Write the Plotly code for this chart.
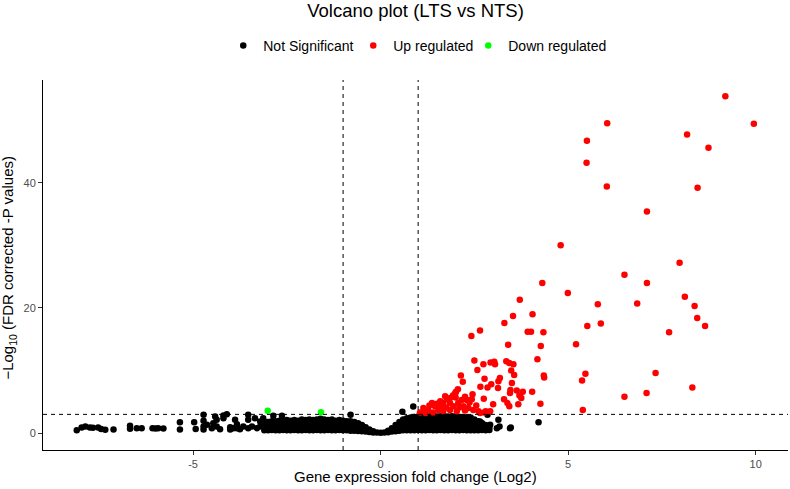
import plotly.graph_objects as go

# ---------------- data ----------------
# Not significant: dense band, given as x-column -> list of y values
ns_band = {
    -3.1: [0.45, 1.0, 1.6], -3.0: [0.45, 1.05, 1.8], -2.9: [0.5, 1.1, 1.9],
    -2.8: [0.45, 1.0, 1.5, 1.9], -2.7: [0.45, 1.05, 1.6, 2.0], -2.6: [0.5, 1.1, 1.6, 2.0],
    -2.5: [0.45, 1.0, 1.6, 2.1], -2.4: [0.45, 1.05, 1.55, 2.0], -2.3: [0.5, 1.1, 1.6, 2.1],
    -2.2: [0.45, 1.0, 1.5, 2.0], -2.1: [0.45, 1.05, 1.65, 2.2], -2.0: [0.5, 1.1, 1.6, 2.1],
    -1.9: [0.45, 1.0, 1.6, 2.2], -1.8: [0.45, 1.05, 1.6, 2.1], -1.7: [0.5, 1.1, 1.65, 2.2],
    -1.6: [0.45, 1.0, 1.6, 2.3], -1.5: [0.45, 1.05, 1.6, 2.2], -1.4: [0.5, 1.1, 1.6, 2.1],
    -1.3: [0.45, 1.0, 1.6, 2.2], -1.2: [0.45, 1.05, 1.55, 2.0], -1.1: [0.5, 1.1, 1.6, 2.1],
    -1.0: [0.45, 1.0, 1.5, 2.0], -0.9: [0.45, 1.0, 1.45, 1.9], -0.8: [0.4, 0.95, 1.45, 1.9],
    -0.7: [0.4, 0.9, 1.35, 1.8], -0.6: [0.35, 0.85, 1.25, 1.6], -0.5: [0.3, 0.8, 1.3],
    -0.4: [0.25, 0.6, 0.95], -0.3: [0.2, 0.6], -0.2: [0.1, 0.3], -0.1: [0.1],
    0.0: [0.05], 0.1: [0.1], 0.2: [0.15, 0.4], 0.3: [0.25, 0.8], 0.4: [0.3, 0.8, 1.3],
    0.5: [0.4, 0.9, 1.4, 1.8], 0.6: [0.45, 1.0, 1.6, 2.2], 0.7: [0.45, 1.0, 1.5, 2.0, 2.4],
    0.8: [0.45, 1.05, 1.6, 2.1, 2.5], 0.9: [0.45, 1.0, 1.55, 2.1, 2.6],
    1.0: [0.5, 1.05, 1.6, 2.15, 2.65], 1.1: [0.45, 1.0, 1.55, 2.1, 2.7],
    1.2: [0.45, 1.05, 1.6, 2.2, 2.7], 1.3: [0.5, 1.0, 1.55, 2.1, 2.65],
    1.4: [0.45, 1.05, 1.6, 2.15, 2.7], 1.5: [0.45, 1.0, 1.55, 2.1, 2.65],
    1.6: [0.5, 1.05, 1.6, 2.2, 2.7], 1.7: [0.45, 1.0, 1.55, 2.1, 2.7],
    1.8: [0.45, 1.05, 1.6, 2.15, 2.65], 1.9: [0.5, 1.0, 1.55, 2.1, 2.7],
    2.0: [0.45, 1.05, 1.6, 2.2, 2.65], 2.1: [0.45, 1.0, 1.55, 2.1, 2.6],
    2.2: [0.5, 1.05, 1.6, 2.15, 2.6], 2.3: [0.45, 1.0, 1.55, 2.1, 2.55],
    2.4: [0.45, 1.0, 1.55, 2.1, 2.5], 2.5: [0.45, 1.0, 1.6, 2.2], 2.6: [0.45, 1.0, 1.5, 1.9],
    2.7: [0.5, 1.05, 1.6], 2.8: [0.45, 1.0, 1.3], 2.9: [0.5, 1.0],
}
# Not significant: scattered points
ns_x = [-8.1, -7.97, -7.87, -7.75, -7.67, -7.53, -7.45, -7.34, -7.12, -6.68, -6.68, -6.5, -6.37,
        -6.08, -6.0, -5.93, -5.79, -5.35, -5.35, -4.97, -4.93, -4.72, -4.72, -4.72, -4.72, -4.63,
        -4.5, -4.46, -4.41, -4.37, -4.37, -4.28, -4.19, -4.19, -4.1, -4.01, -4.01, -3.92, -3.88,
        -3.83, -3.83, -3.75, -3.66, -3.53, -3.53, -3.53, -3.43, -3.35, -3.3, -3.21, -3.21, -3.13,
        -3.13, -2.86, -2.63, -0.8, 0.58, 0.87, 2.39, 2.43, 2.21, 2.25, 2.58, 2.61, 2.65, 2.7,
        2.85, 2.92, 3.1, 3.14, 3.17, 3.45, 3.47, 4.21]
ns_y = [0.45, 0.9, 1.05, 0.9, 0.85, 0.9, 0.65, 0.55, 0.6, 1.2, 0.7, 0.8, 0.8,
        0.8, 0.75, 0.8, 0.75, 1.75, 0.6, 1.75, 0.65, 2.93, 1.97, 1.06, 0.59, 1.33,
        0.8, 1.6, 2.66, 2.13, 1.06, 0.64, 2.82, 2.4, 3.03, 0.96, 0.59, 0.8, 2.13,
        1.44, 0.8, 0.64, 1.06, 2.93, 2.13, 0.8, 1.06, 2.4, 0.8, 1.86, 1.06, 2.4,
        1.6, 2.77, 2.77, 2.93, 3.4, 4.27, 1.33, 0.53, 0.53, 0.8, 1.17, 1.06, 1.86, 1.6,
        2.93, 1.33, 0.8, 2.13, 1.06, 0.8, 0.9, 1.76]

# Up regulated
up_x = [9.19, 9.95, 6.04, 8.17, 5.50, 8.74, 5.49, 6.03, 8.45, 7.10, 4.80, 7.97, 6.50, 4.31,
        7.10, 4.99, 8.11, 3.71, 6.84, 5.79, 8.37, 3.53, 4.05, 8.44, 3.30, 5.87, 5.51, 8.65,
        2.65, 3.92, 4.01, 4.34, 7.69, 2.42, 3.40, 4.27, 5.21, 4.18, 5.46, 5.37, 7.33, 8.31,
        7.09, 6.50, 4.35, 4.36, 4.04, 4.26, 5.39,
        2.50, 2.93, 3.03, 2.74, 3.05, 3.35, 3.43, 3.54, 2.58, 3.48, 3.56, 2.77, 3.18, 3.14,
        2.14, 2.19, 2.66, 2.85, 2.95, 3.13, 3.50, 3.46, 3.63, 3.45, 3.79, 2.06, 2.01, 1.96,
        3.70, 3.75, 2.75, 3.29, 3.38, 3.43, 3.00, 3.67, 2.80, 2.65,
        1.99, 1.93, 2.16, 2.30, 2.37, 2.43, 1.72, 1.77, 1.59, 1.67, 1.37, 1.45, 1.14, 1.27,
        1.85, 1.94, 2.07, 2.21, 2.34, 2.47, 1.54, 1.67, 1.85, 2.03, 2.61, 2.76, 2.92,
        1.05, 1.20, 1.40, 1.60, 1.75, 2.10, 2.25, 1.30, 1.50, 2.00, 1.85, 2.25, 2.55, 2.45]
up_y = [53.8, 49.4, 49.5, 47.7, 46.7, 45.6, 43.2, 39.4, 39.2, 35.4, 30.0, 27.2, 25.3, 24.0,
        24.0, 22.4, 21.8, 21.3, 20.7, 20.6, 20.3, 18.7, 19.0, 18.4, 17.6, 17.5, 17.1, 17.1,
        16.4, 16.2, 16.2, 16.1, 16.1, 15.5, 14.1, 13.9, 14.2, 11.8, 9.5, 8.4, 9.6, 7.3,
        6.4, 5.8, 9.2, 8.9, 6.6, 4.7, 3.7,
        11.6, 11.3, 11.4, 11.0, 11.0, 11.5, 11.2, 11.0, 10.1, 10.0, 9.3, 8.7, 8.8, 8.3,
        9.2, 8.2, 7.4, 7.3, 7.8, 7.2, 8.0, 6.9, 6.8, 6.4, 6.6, 7.0, 6.6, 6.1,
        6.0, 5.6, 5.5, 5.4, 4.8, 4.3, 4.6, 4.6, 3.5, 3.2,
        6.4, 6.0, 5.3, 5.3, 4.9, 5.4, 5.9, 5.4, 5.1, 4.8, 4.8, 4.3, 4.0, 3.7,
        4.8, 4.3, 4.8, 4.3, 4.0, 3.7, 3.7, 3.5, 3.7, 3.5, 3.5, 3.3, 3.5,
        3.3, 3.2, 3.3, 4.2, 4.1, 4.1, 3.6, 4.4, 4.7, 5.7, 5.6, 5.8, 4.4, 6.2]

# Down regulated
down_x = [-3.01, -1.59]
down_y = [3.57, 3.35]

x_ticks = [-5, 0, 5, 10]
y_ticks = [0, 20, 40]
fc_cut = [-1, 1]
p_cut = 3

# ---------------- figure ----------------
band_x, band_y = [], []
for cx, ys in ns_band.items():
    for yy in ys:
        band_x.append(cx)
        band_y.append(yy)
all_ns_x = band_x + ns_x
all_ns_y = band_y + ns_y

FONT = "Liberation Sans, Arial, sans-serif"
msize = 6.5

fig = go.Figure()
fig.add_trace(go.Scatter(x=all_ns_x, y=all_ns_y, mode="markers", name="Not Significant",
                         legendwidth=85,
                         marker=dict(color="#000000", size=msize, line=dict(width=0))))
fig.add_trace(go.Scatter(x=up_x, y=up_y, mode="markers", name="Up regulated",
                         legendwidth=70,
                         marker=dict(color="#FF0000", size=msize, line=dict(width=0))))
fig.add_trace(go.Scatter(x=down_x, y=down_y, mode="markers", name="Down regulated",
                         marker=dict(color="#00FF00", size=msize, line=dict(width=0))))

for v in fc_cut:
    fig.add_shape(type="line", xref="x", yref="paper", x0=v, x1=v, y0=0, y1=1,
                  line=dict(color="black", width=1, dash="4px,4px"))
fig.add_shape(type="line", xref="paper", yref="y", x0=0, x1=1, y0=p_cut, y1=p_cut,
              line=dict(color="black", width=1, dash="4px,4px"))

# axis titles as annotations for exact placement
fig.add_annotation(text="Gene expression fold change (Log2)", xref="paper", yref="paper",
                   x=0.5, y=-0.0715, xanchor="center", yanchor="middle", showarrow=False,
                   font=dict(family=FONT, size=15, color="black"))
fig.add_annotation(text="\u2212Log<sub>10</sub> (FDR corrected -P values)", xref="paper",
                   yref="paper", x=-0.0456, y=0.493, xanchor="center", yanchor="middle",
                   textangle=-90, showarrow=False,
                   font=dict(family=FONT, size=15, color="black"))

axis_common = dict(showgrid=False, zeroline=False, showline=True, linecolor="black",
                   linewidth=1, ticks="outside", ticklen=4, tickcolor="#333333",
                   tickfont=dict(family=FONT, size=11, color="#4D4D4D"), automargin=False)

fig.update_layout(
    template="none",
    width=790, height=489,
    margin=dict(l=43, r=2, t=80, b=39, autoexpand=False),
    paper_bgcolor="white", plot_bgcolor="white",
    font=dict(family=FONT, color="black"),
    title=dict(text="Volcano plot (LTS vs NTS)", x=0.5, xref="paper", xanchor="center",
               y=0.9775, yref="container", yanchor="middle",
               font=dict(family=FONT, size=18.5, color="black")),
    legend=dict(orientation="h", x=0.503, xanchor="center", y=1.092, yanchor="middle",
                font=dict(family=FONT, size=14, color="black"), bgcolor="rgba(0,0,0,0)"),
    xaxis=dict(range=[-9.0, 10.86], tickvals=x_ticks, ticktext=[str(t) for t in x_ticks],
               **axis_common),
    yaxis=dict(range=[-2.69, 56.4], tickvals=y_ticks, ticktext=[str(t) for t in y_ticks],
               **axis_common),
)

fig.write_html("out.html", config={"displayModeBar": False},
               post_script="document.body.style.margin='0';")
